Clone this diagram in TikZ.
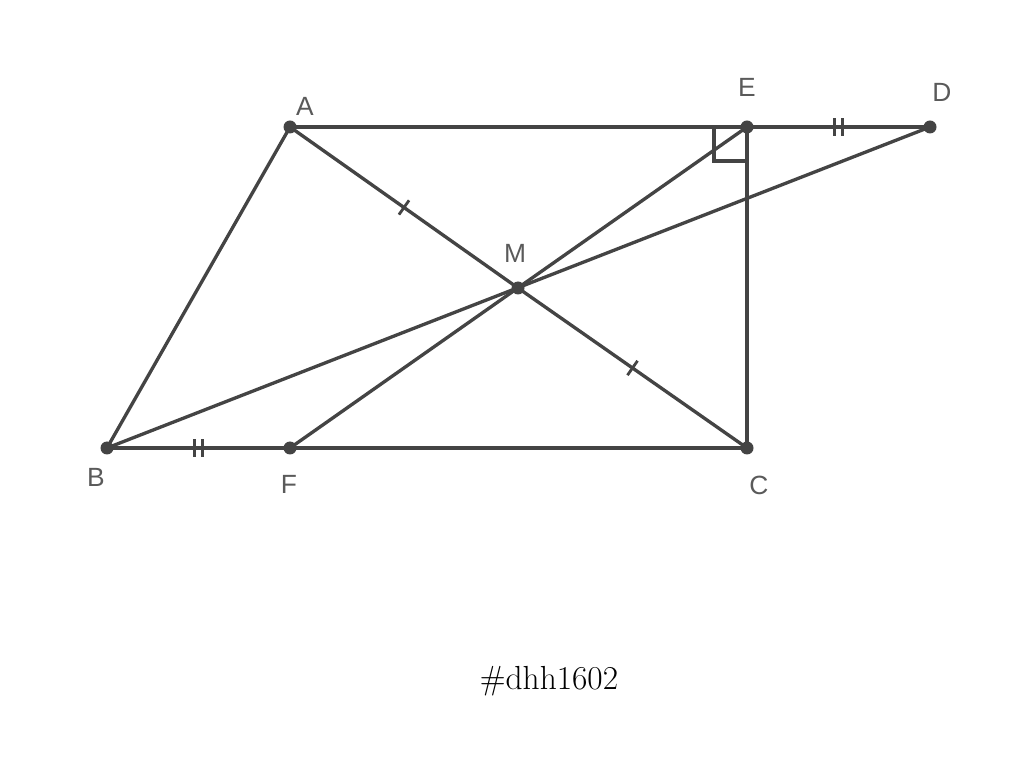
\documentclass[tikz,border=0pt]{standalone}
\usepackage{fontspec}
\setsansfont{Liberation Sans}
\definecolor{geoline}{RGB}{68,68,68}
\definecolor{geolabel}{RGB}{90,90,90}
\usetikzlibrary{calc,decorations.markings}

\begin{document}
\begin{tikzpicture}[x=0.02cm,y=-0.02cm,
    seg/.style={line width=1.9pt, geoline},
    onetick/.style={postaction={decorate},
      decoration={markings, mark=at position 0.5 with {\draw[line width=1.6pt, geoline] (0,-5pt) -- (0,5pt);}}},
    twotick/.style={postaction={decorate},
      decoration={markings, mark=at position 0.5 with {
        \draw[line width=1.6pt, geoline] (-2.3pt,-5pt) -- (-2.3pt,5pt);
        \draw[line width=1.6pt, geoline] (2.3pt,-5pt) -- (2.3pt,5pt);}}},
    pt/.style={fill=geoline},
    lbl/.style={font=\sffamily\fontsize{15}{18}\selectfont, text=geolabel}]
    \useasboundingbox (0,0) rectangle (1024,766);

    % Points
    \coordinate (A) at (290,127);
    \coordinate (E) at (747,127);
    \coordinate (D) at (930,127);
    \coordinate (B) at (107,448);
    \coordinate (F) at (290,448);
    \coordinate (C) at (747,448);
    \coordinate (M) at (518,288);

    % Right angle at E
    \draw[seg] (E) rectangle ++(-33,34);

    % Sides
    \draw[seg] (A) -- (E);
    \draw[seg, twotick] (E) -- (D);
    \draw[seg] (A) -- (B);
    \draw[seg, twotick] (B) -- (F);
    \draw[seg] (F) -- (C);
    \draw[seg] (E) -- (C);

    % Through M
    \draw[seg, onetick] (A) -- (M);
    \draw[seg, onetick] (M) -- (C);
    \draw[seg] (B) -- (D);
    \draw[seg] (F) -- (E);

    % Dots
    \foreach \p in {A,E,D,B,F,C,M}
        \fill[pt] (\p) circle (6.5);

    % Labels
    \node[lbl] (labA) at (305,106) {A};
    \node[lbl] (labE) at (747,87) {E};
    \node[lbl] (labD) at (942,92) {D};
    \node[lbl] (labM) at (515,253) {M};
    \node[lbl] (labB) at (96,477) {B};
    \node[lbl] (labF) at (289,484) {F};
    \node[lbl] (labC) at (759,485) {C};

    \node[font=\fontsize{19}{22}\selectfont] (tag) at (549,681) {\#dhh1602};
\end{tikzpicture}
\end{document}
